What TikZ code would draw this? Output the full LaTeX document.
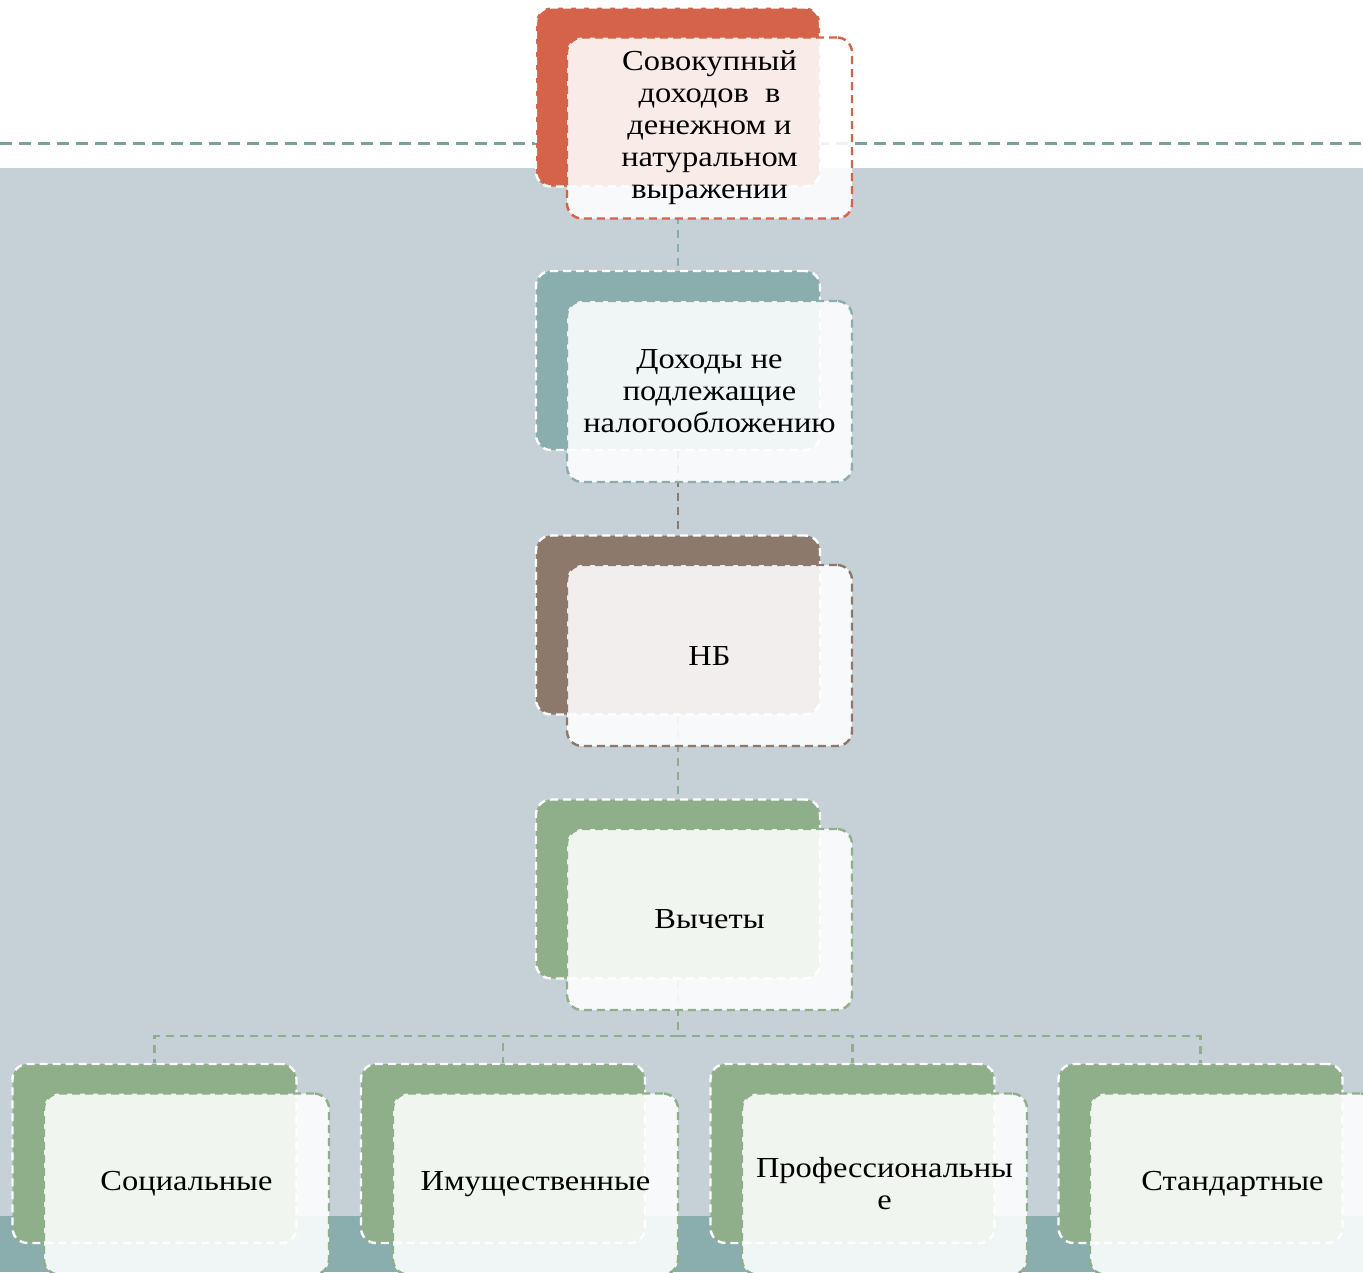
\documentclass[tikz,border=0pt]{standalone}
\usepackage{fontspec}
\setmainfont{Liberation Serif}[FakeStretch=1.12]
\usepackage{tikz}

\definecolor{redbox}{HTML}{D4634A}
\definecolor{tealbox}{HTML}{8AADAE}
\definecolor{brownbox}{HTML}{8C796C}
\definecolor{greenbox}{HTML}{8FAE8A}
\definecolor{slide}{HTML}{C5D1D7}
\definecolor{strip}{HTML}{8AADAD}
\definecolor{rule}{HTML}{7F9E9C}

\tikzset{
  backbox/.style={rounded corners=15pt, minimum width=284pt, minimum height=179pt,
    draw=white, line width=2.4pt, dash pattern=on 8pt off 5pt, inner sep=0pt},
  frontbox/.style={rounded corners=15pt, minimum width=285pt, minimum height=181pt,
    fill=white, fill opacity=0.88, text opacity=1, line width=2.4pt,
    dash pattern=on 8pt off 5pt, align=center, inner sep=0pt,
    font=\fontsize{29}{32}\selectfont},
  conn/.style={line width=2.4pt, dash pattern=on 8pt off 6pt}
}

\begin{document}
\begin{tikzpicture}[x=1pt,y=-1pt]
 \useasboundingbox (0,0) rectangle (1363,1272);
 \clip (0,0) rectangle (1363,1272);

 \fill[white] (0,0) rectangle (1363,168);
 \fill[slide] (0,168) rectangle (1363,1216);
 \fill[strip] (0,1216) rectangle (1363,1272);
 \draw[rule, line width=3pt, dash pattern=on 12pt off 7pt] (0,143) -- (1363,143);

 \node[backbox, fill=redbox] (sumB) at (678,97) {};
 \node[backbox, fill=tealbox] (freeB) at (678,360.5) {};
 \node[backbox, fill=brownbox] (nbB) at (678,625) {};
 \node[backbox, fill=greenbox] (dedB) at (678,889) {};

 \node[backbox, fill=greenbox] (socB) at (154.5,1153.5) {};
 \node[backbox, fill=greenbox] (propB) at (503,1153.5) {};
 \node[backbox, fill=greenbox] (profB) at (852.5,1153.5) {};
 \node[backbox, fill=greenbox] (stdB) at (1200.5,1153.5) {};

 \coordinate (fork) at (678,1036);

 \draw[conn, tealbox] (sumB.south) -- (freeB.north);
 \draw[conn, brownbox] (freeB.south) -- (nbB.north);
 \draw[conn, greenbox] (nbB.south) -- (dedB.north);
 \draw[conn, greenbox] (dedB.south) -- (fork);
 \draw[conn, greenbox] (fork) -| (socB.north);
 \draw[conn, greenbox] (fork) -| (propB.north);
 \draw[conn, greenbox] (fork) -| (profB.north);
 \draw[conn, greenbox] (fork) -| (stdB.north);

 \node[frontbox, draw=redbox] (sum) at (709.5,128)
  {Совокупный\\доходов~~в\\денежном и\\натуральном\\выражении};
 \node[frontbox, draw=tealbox] (free) at (709.5,391.5)
  {Доходы не\\подлежащие\\налогообложению};
 \node[frontbox, draw=brownbox] (nb) at (709.5,655.5) {НБ};
 \node[frontbox, draw=greenbox] (ded) at (709.5,919.5) {Вычеты};

 \node[frontbox, draw=greenbox] (soc) at (186.5,1184) {Социальные};
 \node[frontbox, draw=greenbox] (prop) at (535.5,1184) {Имущественные};
 \node[frontbox, draw=greenbox] (prof) at (884.5,1184) {Профессиональны\\е};
 \node[frontbox, draw=greenbox] (std) at (1232.5,1184) {Стандартные};
\end{tikzpicture}
\end{document}
